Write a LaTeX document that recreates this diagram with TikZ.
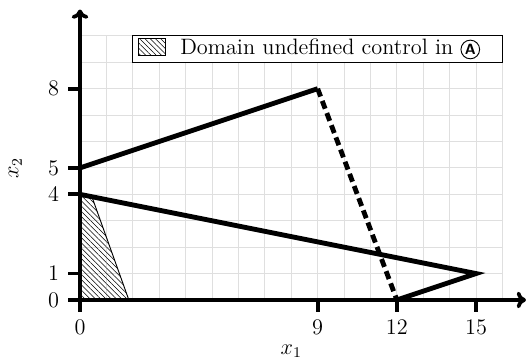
\documentclass[tikz,border=0pt]{standalone}
\usepackage{amsmath,amssymb}
\usepackage{tikz}
\usetikzlibrary{arrows.meta,patterns.meta}

\newcommand{\circA}{\tikz[baseline=(ca.base)]\node[draw,circle,inner sep=0.7pt,line width=0.5pt,font=\sffamily\bfseries\footnotesize] (ca) {A};}

\tikzset{
	axisline/.style={line width=2pt},
	plotline/.style={line width=2.6pt},
	hatched/.style={pattern={Lines[angle=-45,distance=2pt,line width=0.3pt]}},
}

\begin{document}
\begin{tikzpicture}[x=0.5cm, y=0.5cm, every node/.style={font=\large}, >={To[length=5pt,width=9pt]}]
	\useasboundingbox (-3.03,-2.31) rectangle (16.89,11.36);
	\draw[gray!25, line width=0.5pt, step=0.5cm] (0,0) grid (16,10);
	% vertices
	\coordinate (a) at (0,5);
	\coordinate (b) at (9,8);
	\coordinate (c) at (12,0);
	\coordinate (d) at (0,4);
	\coordinate (e) at (15,1);
	% domain
	\fill[hatched] (0,0) -- (1.85,0) -- (0.45,3.91) -- (d) -- cycle;
	\draw[line width=0.5pt] (1.85,0) -- (0.45,3.91);
	% axes
	\draw[axisline, ->] (-0.45,0) -- (16.89,0);
	\draw[axisline, ->] (0,-0.45) -- (0,11);
	\foreach \x in {0,9,12,15} {
		\draw[axisline] (\x,0) -- (\x,-0.45);
		\node (xt\x) at (\x,-1.05) {$\x$};
	}
	\foreach \y in {0,1,4,5,8} {
		\draw[axisline] (0,\y) -- (-0.45,\y);
		\node (yt\y) at (-1,\y) {$\y$};
	}
	\node (xlab) at (8,-1.95) {$x_1$};
	\node[rotate=90] (ylab) at (-2.45,5) {$x_2$};
	% constraints
	\draw[plotline] (a) -- (b);
	\draw[plotline, dash pattern=on 4.5pt off 2.5pt] (b) -- (c);
	\draw[plotline] (d) -- (e) -- (c);
	% legend
	\draw[fill=white, line width=0.6pt] (2,9) rectangle (16,10);
	\draw[hatched] (2.2,9.25) rectangle (3.25,9.9);
	\draw[line width=0.4pt] (2.2,9.25) rectangle (3.25,9.9);
	\node[anchor=west] (legtext) at (3.55,9.5) {Domain undefined control in \circA};
\end{tikzpicture}
\end{document}
